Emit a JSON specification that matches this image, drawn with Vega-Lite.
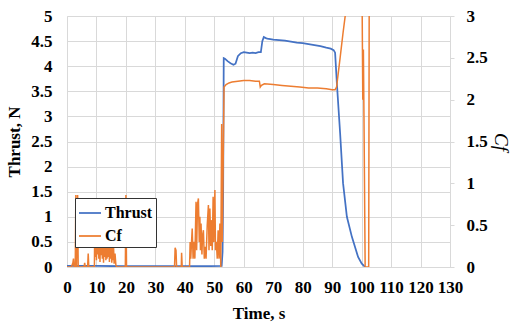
{
  "$schema": "https://vega.github.io/schema/vega-lite/v6.json",
  "width": 383,
  "height": 251,
  "autosize": {"type": "none"},
  "padding": {"left": 67, "top": 16, "right": 66, "bottom": 58},
  "background": "white",
  "config": {
    "view": {"stroke": null},
    "font": "Liberation Serif",
    "axis": {
      "labelFont": "Liberation Serif", "labelFontWeight": "bold", "labelFontSize": 17, "labelColor": "black",
      "titleFont": "Liberation Serif", "titleFontWeight": "bold", "titleFontSize": 17, "titleColor": "black",
      "gridColor": "#d9d9d9", "gridWidth": 1, "domainColor": "#d9d9d9", "tickColor": "#d9d9d9"
    },
    "legend": {"labelFont": "Liberation Serif"}
  },
  "datasets": {
    "thrust": [
      {"t": 0, "v": 0.02}, {"t": 10, "v": 0.02}, {"t": 20, "v": 0.015}, {"t": 30, "v": 0.015}, {"t": 40, "v": 0.015},
      {"t": 45, "v": 0.015}, {"t": 52.5, "v": 0.02}, {"t": 52.8, "v": 0.3}, {"t": 53.0, "v": 1.5}, {"t": 53.2, "v": 4.16},
      {"t": 53.6, "v": 4.15}, {"t": 54.5, "v": 4.1}, {"t": 55.5, "v": 4.06}, {"t": 56.5, "v": 4.03}, {"t": 57.2, "v": 4.05},
      {"t": 58, "v": 4.2}, {"t": 59, "v": 4.26}, {"t": 60, "v": 4.28}, {"t": 61, "v": 4.27}, {"t": 62, "v": 4.26},
      {"t": 63, "v": 4.27}, {"t": 64, "v": 4.26}, {"t": 65, "v": 4.28}, {"t": 65.8, "v": 4.28}, {"t": 66.3, "v": 4.5},
      {"t": 66.8, "v": 4.58}, {"t": 67.5, "v": 4.56}, {"t": 68, "v": 4.55}, {"t": 69, "v": 4.54}, {"t": 70, "v": 4.53},
      {"t": 72, "v": 4.52}, {"t": 74, "v": 4.51}, {"t": 76, "v": 4.49}, {"t": 78, "v": 4.47}, {"t": 80, "v": 4.46},
      {"t": 82, "v": 4.44}, {"t": 84, "v": 4.42}, {"t": 86, "v": 4.4}, {"t": 88, "v": 4.37}, {"t": 89.5, "v": 4.35},
      {"t": 90.5, "v": 4.32}, {"t": 91, "v": 4.27}, {"t": 91.6, "v": 3.66}, {"t": 92.7, "v": 2.67}, {"t": 93.7, "v": 1.67},
      {"t": 95, "v": 1.0}, {"t": 96.7, "v": 0.6}, {"t": 98.8, "v": 0.2}, {"t": 100, "v": 0.07}, {"t": 101.2, "v": 0.0}
    ],
    "cf": [
      {"t": 0, "v": 0}, {"t": 1.5, "v": 0}, {"t": 2.0, "v": 0.05}, {"t": 2.2, "v": 0.1}, {"t": 2.4, "v": 0},
      {"t": 2.8, "v": 0}, {"t": 3.0, "v": 0.86}, {"t": 3.2, "v": 0}, {"t": 3.4, "v": 0.4}, {"t": 3.6, "v": 0.86},
      {"t": 3.8, "v": 0}, {"t": 5.8, "v": 0}, {"t": 6.0, "v": 0.05}, {"t": 6.2, "v": 0}, {"t": 7.0, "v": 0},
      {"t": 7.2, "v": 0.16}, {"t": 7.4, "v": 0}, {"t": 9.3, "v": 0},
      {"t": 9.4, "v": 0.42}, {"t": 9.6, "v": 0.12}, {"t": 9.8, "v": 0.5}, {"t": 10.0, "v": 0.08}, {"t": 10.2, "v": 0.46},
      {"t": 10.4, "v": 0.15}, {"t": 10.6, "v": 0.52}, {"t": 10.8, "v": 0.1}, {"t": 11.0, "v": 0.48}, {"t": 11.2, "v": 0.06},
      {"t": 11.4, "v": 0.55}, {"t": 11.6, "v": 0.14}, {"t": 11.8, "v": 0.5}, {"t": 12.0, "v": 0.1}, {"t": 12.2, "v": 0.53},
      {"t": 12.4, "v": 0.05}, {"t": 12.6, "v": 0.47}, {"t": 12.8, "v": 0.12}, {"t": 13.0, "v": 0.5}, {"t": 13.2, "v": 0.08},
      {"t": 13.4, "v": 0.45}, {"t": 13.6, "v": 0.1}, {"t": 13.8, "v": 0.5}, {"t": 14.0, "v": 0.12}, {"t": 14.2, "v": 0.44},
      {"t": 14.4, "v": 0.06}, {"t": 14.6, "v": 0.4}, {"t": 14.8, "v": 0.1}, {"t": 15.0, "v": 0.36}, {"t": 15.2, "v": 0.05},
      {"t": 15.4, "v": 0.3}, {"t": 15.6, "v": 0.08}, {"t": 15.8, "v": 0.24}, {"t": 16.0, "v": 0.04}, {"t": 16.3, "v": 0.16},
      {"t": 16.6, "v": 0.02}, {"t": 16.9, "v": 0},
      {"t": 19.8, "v": 0}, {"t": 20.0, "v": 0.86}, {"t": 20.2, "v": 0}, {"t": 36.5, "v": 0}, {"t": 36.7, "v": 0.23},
      {"t": 37.0, "v": 0.2}, {"t": 37.2, "v": 0}, {"t": 38.8, "v": 0}, {"t": 38.9, "v": 0.17}, {"t": 39.1, "v": 0},
      {"t": 41.6, "v": 0}, {"t": 41.8, "v": 0.3}, {"t": 42.0, "v": 0.1}, {"t": 42.5, "v": 0.46}, {"t": 42.8, "v": 0.1},
      {"t": 43.1, "v": 0.3}, {"t": 43.4, "v": 0.1}, {"t": 43.8, "v": 0.78}, {"t": 44.0, "v": 0.2}, {"t": 44.3, "v": 0.75},
      {"t": 44.6, "v": 0.82}, {"t": 44.9, "v": 0.3}, {"t": 45.1, "v": 0.6}, {"t": 45.3, "v": 0.2}, {"t": 45.5, "v": 0.52},
      {"t": 45.8, "v": 0.15}, {"t": 46.0, "v": 0.37}, {"t": 46.3, "v": 0.44}, {"t": 46.6, "v": 0.1}, {"t": 46.9, "v": 0.24},
      {"t": 47.2, "v": 0.1}, {"t": 47.6, "v": 0.5}, {"t": 48.0, "v": 0.74}, {"t": 48.2, "v": 0.2}, {"t": 48.5, "v": 0.7},
      {"t": 48.8, "v": 0.25}, {"t": 49.1, "v": 0.56}, {"t": 49.3, "v": 0.2}, {"t": 49.6, "v": 0.84}, {"t": 49.8, "v": 0.3},
      {"t": 50.2, "v": 0.92}, {"t": 50.4, "v": 0.2}, {"t": 50.7, "v": 0.3}, {"t": 51.0, "v": 0.1}, {"t": 51.3, "v": 0.44},
      {"t": 51.6, "v": 0.1}, {"t": 51.9, "v": 0.52}, {"t": 52.2, "v": 0.0}, {"t": 52.5, "v": 1.71}, {"t": 52.7, "v": 0.3},
      {"t": 53.0, "v": 1.2}, {"t": 53.3, "v": 2.15}, {"t": 54, "v": 2.18}, {"t": 55, "v": 2.2}, {"t": 56, "v": 2.21},
      {"t": 58, "v": 2.22}, {"t": 60, "v": 2.23}, {"t": 62, "v": 2.23}, {"t": 64, "v": 2.22}, {"t": 65.3, "v": 2.22},
      {"t": 65.6, "v": 2.15}, {"t": 66, "v": 2.17}, {"t": 67, "v": 2.19}, {"t": 70, "v": 2.18}, {"t": 73, "v": 2.17},
      {"t": 76, "v": 2.16}, {"t": 79, "v": 2.15}, {"t": 82, "v": 2.14}, {"t": 85, "v": 2.14}, {"t": 88, "v": 2.13},
      {"t": 90, "v": 2.12}, {"t": 91, "v": 2.12}, {"t": 91.5, "v": 2.15}, {"t": 92.7, "v": 2.5}, {"t": 93.7, "v": 2.8},
      {"t": 94.5, "v": 3.02}, {"t": 95.5, "v": 3.4}, {"t": 100.0, "v": 3.6}, {"t": 100.2, "v": 3.0}, {"t": 100.4, "v": 2.0},
      {"t": 100.6, "v": 2.6}, {"t": 100.8, "v": 1.8}, {"t": 101.2, "v": 0}, {"t": 102.4, "v": 0}, {"t": 102.6, "v": 3.6}
    ]
  },
  "encoding": {
    "x": {
      "field": "t", "type": "quantitative",
      "scale": {"domain": [0, 130], "nice": false},
      "axis": {
        "values": [0, 10, 20, 30, 40, 50, 60, 70, 80, 90, 100, 110, 120, 130],
        "title": "Time, s", "ticks": false, "labelPadding": 12, "labelOverlap": false, "labelFlush": false,
        "titleX": 191.5, "titleY": 46, "titleBaseline": "middle", "domain": true,
        "encode": {"labels": {"update": {"font": {"value": "Liberation Serif"}, "fontSize": {"value": 17}, "fontWeight": {"value": "bold"}}}}
      }
    }
  },
  "layer": [
    {
      "data": {"name": "thrust"},
      "mark": {"type": "line", "strokeWidth": 1.75, "clip": true},
      "encoding": {
        "y": {
          "field": "v", "type": "quantitative",
          "scale": {"domain": [0, 5], "nice": false},
          "axis": {
            "values": [0, 0.5, 1, 1.5, 2, 2.5, 3, 3.5, 4, 4.5, 5], "format": "~g",
            "title": "Thrust, N", "ticks": false, "labelPadding": 15, "grid": true,
            "titleX": -53, "titleY": 125.5, "titleAngle": -90, "titleBaseline": "middle", "titleAlign": "center",
            "encode": {"labels": {"update": {"font": {"value": "Liberation Serif"}, "fontSize": {"value": 17}, "fontWeight": {"value": "bold"}}}}
          }
        },
        "color": {"datum": "Thrust"}
      }
    },
    {
      "data": {"name": "cf"},
      "mark": {"type": "line", "strokeWidth": 1.5, "clip": true},
      "encoding": {
        "y": {
          "field": "v", "type": "quantitative",
          "scale": {"domain": [0, 3], "nice": false},
          "axis": {
            "orient": "right",
            "values": [0, 0.5, 1, 1.5, 2, 2.5, 3], "format": "~g",
            "title": "Cf", "titleFontStyle": "italic", "titleFontWeight": "normal", "titleFontSize": 19,
            "ticks": true, "tickSize": 4, "labelPadding": 12, "grid": false,
            "titleX": 50, "titleY": 125.5, "titleAngle": 90, "titleBaseline": "middle", "titleAlign": "center",
            "encode": {"labels": {"update": {"font": {"value": "Liberation Serif"}, "fontSize": {"value": 17}, "fontWeight": {"value": "bold"}}}}
          }
        },
        "color": {
          "datum": "Cf",
          "scale": {"domain": ["Thrust", "Cf"], "range": ["#4472C4", "#ED7D31"]},
          "legend": {
            "title": null, "orient": "none", "legendX": 8, "legendY": 182,
            "symbolType": "stroke", "symbolSize": 484, "symbolStrokeWidth": 1.75,
            "labelFont": "Liberation Serif", "labelFontWeight": "bold", "labelFontSize": 16, "labelColor": "black",
            "labelOffset": 3, "rowPadding": 3, "padding": 3,
            "fillColor": "white", "strokeColor": "#333333", "zindex": 1,
            "encode": {"labels": {"update": {"font": {"value": "Liberation Serif"}}}}
          }
        }
      }
    }
  ],
  "resolve": {"scale": {"y": "independent"}}
}
